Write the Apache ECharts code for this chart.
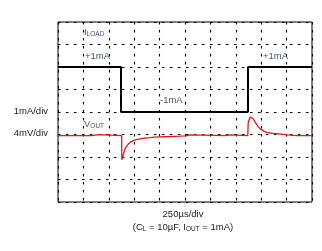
<!DOCTYPE html>
<html>
<head>
<meta charset="utf-8">
<script src="https://cdn.jsdelivr.net/npm/echarts@6/dist/echarts.min.js"></script>
<style>html,body{margin:0;padding:0;background:#fff;}#c{width:322px;height:251px;}</style>
</head>
<body>
<div id="c"></div>
<script>
// Load current step (time in µs, current in mA)
var loadTime = [0, 620, 620, 1870, 1870, 2500];
var loadMa   = [1, 1, -1, -1, 1, 1];

// Output voltage deviation (time in µs, mV)
var voutTime = [0, 330, 335, 400, 405, 626, 628, 636, 645, 659, 675, 692, 715, 741, 770, 807, 850, 906, 950, 1004, 1050, 1102, 1150, 1200, 1260, 1265, 1300, 1305, 1640, 1645, 1700, 1705, 1868, 1872, 1890, 1907, 1922, 1939, 1955, 1972, 1990, 2005, 2030, 2054, 2085, 2119, 2170, 2218, 2260, 2313, 2360, 2500];
var voutMv   = [0,   0, 0.18, 0.18, 0,   0, -4.3, -4.3, -3.2, -2.36, -1.9, -1.48, -1.15, -0.89, -0.72, -0.59, -0.45, -0.36, -0.28, -0.23, -0.2, -0.18, -0.14, -0.1, -0.05, 0.15, 0.15, 0,    0,    0.15, 0.15, 0,    0,    2.3,  3.3,  3.35, 3.0,  2.45, 2.0,  1.56, 1.2,  0.98, 0.75, 0.57, 0.47, 0.39, 0.3,  0.21, 0.12, 0.05, 0,    0];

var xTicks = [0, 250, 500, 750, 1000, 1250, 1500, 1750, 2000, 2250, 2500];

function pairs(a, b) { return a.map(function (v, i) { return [v, b[i]]; }); }

var chart = echarts.init(document.getElementById('c'), null, {renderer: 'canvas'});
var dotted = {show: true, lineStyle: {color: '#000', type: [2.5, 5.5], width: 1.1}};
var fnt = '"Liberation Sans", Arial, sans-serif';
var inCol = '#46526c';
var outCol = '#222';

chart.setOption({
  animation: false,
  backgroundColor: '#fff',
  grid: {left: 58, top: 22, width: 254, height: 180, show: true, borderColor: '#000', borderWidth: 1, backgroundColor: 'transparent'},
  xAxis: {type: 'value', min: xTicks[0], max: xTicks[xTicks.length - 1], interval: 250,
    axisLine: {show: false}, axisTick: {show: false}, axisLabel: {show: false}, splitLine: dotted},
  yAxis: [
    {type: 'value', min: -5, max: 3, interval: 1, axisLine: {show: false}, axisTick: {show: false}, axisLabel: {show: false}, splitLine: dotted},
    {type: 'value', min: -11.8, max: 20.2, show: false, splitLine: {show: false}}
  ],
  series: [
    {type: 'line', yAxisIndex: 0, data: pairs(loadTime, loadMa), symbol: 'none', lineStyle: {color: '#000', width: 2}, z: 3},
    {type: 'line', yAxisIndex: 1, data: pairs(voutTime, voutMv), symbol: 'none', lineStyle: {color: '#e8141c', width: 1.3}, z: 4}
  ],
  graphic: [
    {type: 'text', left: 84, top: 27, style: {rich: {a: {fontSize: 9.5, fontFamily: fnt, fill: inCol}, s: {fontSize: 6.5, fontFamily: fnt, fill: inCol, padding: [5, 0, 0, 0]}}, text: '{a|I}{s|LOAD}'}},
    {type: 'text', left: 85, top: 51, style: {text: '+1mA', fontSize: 9.5, fontFamily: fnt, fill: inCol}},
    {type: 'text', left: 160, top: 95, style: {text: '-1mA', fontSize: 9.5, fontFamily: fnt, fill: inCol}},
    {type: 'text', left: 263, top: 51, style: {text: '+1mA', fontSize: 9.5, fontFamily: fnt, fill: inCol}},
    {type: 'text', left: 84, top: 119, style: {rich: {a: {fontSize: 9.5, fontFamily: fnt, fill: inCol}, s: {fontSize: 6.5, fontFamily: fnt, fill: inCol, padding: [5, 0, 0, 0]}}, text: '{a|V}{s|OUT}'}},
    {type: 'text', right: 274, top: 106, style: {text: '1mA/div', fontSize: 9.5, fontFamily: fnt, fill: outCol}},
    {type: 'text', right: 274, top: 128, style: {text: '4mV/div', fontSize: 9.5, fontFamily: fnt, fill: outCol}},
    {type: 'text', x: 183, y: 214, style: {text: '250µs/div', fontSize: 9.5, fontFamily: fnt, fill: outCol, align: 'center', verticalAlign: 'middle'}},
    {type: 'text', x: 183, y: 227, style: {rich: {a: {fontSize: 9.5, fontFamily: fnt, fill: outCol}, s: {fontSize: 6.5, fontFamily: fnt, fill: outCol, padding: [5, 0, 0, 0]}},
      text: '{a|(C}{s|L}{a| = 10µF, I}{s|OUT}{a| = 1mA)}', align: 'center', verticalAlign: 'middle'}}
  ]
});
</script>
</body>
</html>
